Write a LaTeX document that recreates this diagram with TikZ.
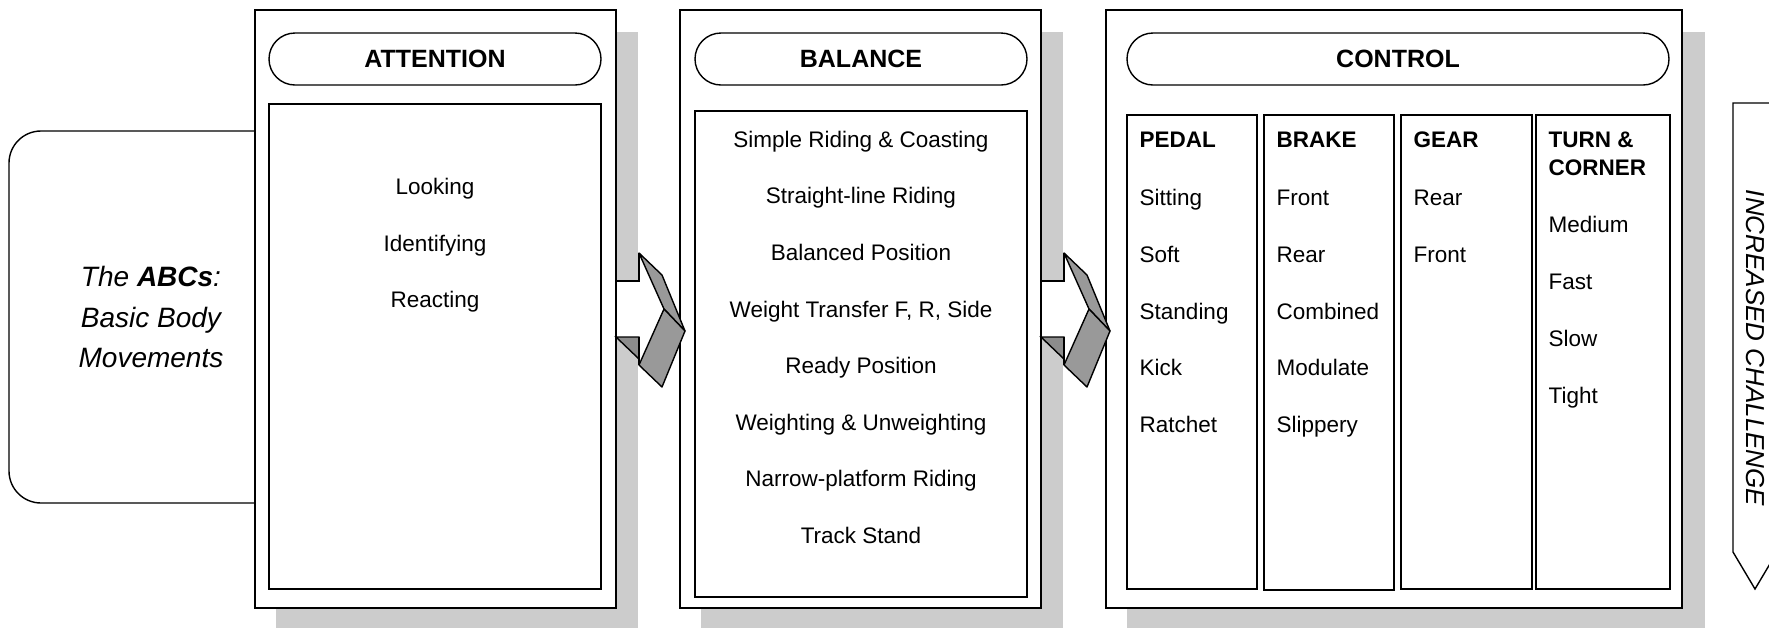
\documentclass[tikz,border=0pt]{standalone}
\usepackage{fontspec}
\setmainfont{Liberation Sans}

\begin{document}
\begin{tikzpicture}[x=0.5pt, y=-0.5pt, line width=0.7pt,
    item/.style={inner sep=0pt, font=\fontsize{11.25}{13.5}\selectfont},
    colhead/.style={inner sep=0pt, align=left, font=\bfseries\fontsize{11.25}{14}\selectfont},
    title/.style={inner sep=0pt, font=\bfseries\fontsize{12.5}{15}\selectfont},
    shadowbox/.style={fill=black!20},
    ribbon/.style={fill=black!40, draw=black, line join=round}]
        \useasboundingbox (0,0) rectangle (1769,628);

        % draw the shadows
        \fill[shadowbox] (276,32) rectangle (638,628);
        \fill[shadowbox] (701,32) rectangle (1063,628);
        \fill[shadowbox] (1127,32) rectangle (1705,628);

        % the starting box
        \draw[rounded corners=16pt] (9,131) rectangle (293,503);

        % draw the panels
        \filldraw[fill=white] (255,10) rectangle (616,608);
        \draw (269,104) rectangle (601,589);
        \draw[rounded corners=13pt] (269,33) rectangle (601,85);

        \filldraw[fill=white] (680,10) rectangle (1041,608);
        \draw (695,111) rectangle (1027,597);
        \draw[rounded corners=13pt] (695,33) rectangle (1027,85);

        \filldraw[fill=white] (1106,10) rectangle (1682,608);
        \draw[rounded corners=13pt] (1127,33) rectangle (1669,85);
        \draw (1127,115) rectangle (1257,589);
        \draw (1264,115) rectangle (1394,590);
        \draw (1401,115) rectangle (1532,589);
        \draw (1536,115) rectangle (1670,589);

        % the folded arrows
        \fill[white] (617,281) rectangle (639,337);
        \draw (616,281) -- (639,281) -- (639,253);
        \filldraw[fill=black!45] (616,337) -- (639,337) -- (639,359) -- cycle;
        \draw (639,337) -- (639,365);
        \filldraw[ribbon] (639,253) -- (662,275) -- (685,331) -- (664,309) -- cycle;
        \filldraw[ribbon] (664,309) -- (685,331) -- (662,387) -- (639,365) -- cycle;

        \fill[white] (1042,281) rectangle (1064,337);
        \draw (1041,281) -- (1064,281) -- (1064,253);
        \filldraw[fill=black!45] (1041,337) -- (1064,337) -- (1064,359) -- cycle;
        \draw (1064,337) -- (1064,365);
        \filldraw[ribbon] (1064,253) -- (1087,275) -- (1110,331) -- (1089,309) -- cycle;
        \filldraw[ribbon] (1089,309) -- (1110,331) -- (1087,387) -- (1064,365) -- cycle;

        % the challenge arrow
        \draw (1733,103) -- (1777,103) -- (1777,552) -- (1755,589) -- (1733,552) -- cycle;

        % the texts
        \node[align=center, inner sep=0pt, font=\itshape\fontsize{14}{20.3}\selectfont] (abc) at (151,317)
            {The \textbf{ABCs}:\\Basic Body\\Movements};
        \node[rotate=-90, inner sep=0pt, font=\itshape\fontsize{13}{15}\selectfont] (challenge) at (1755,348)
            {INCREASED CHALLENGE};

        \node[title] (attention) at (435,59) {ATTENTION};
        \node[title] (balance) at (861,59) {BALANCE};
        \node[title] (control) at (1398,59) {CONTROL};

        \node[item, anchor=base] (a1) at (435,194) {Looking};
        \node[item, anchor=base] (a2) at (435,251) {Identifying};
        \node[item, anchor=base] (a3) at (435,307) {Reacting};

        \node[item, anchor=base] (b1) at (861,147) {Simple Riding \& Coasting};
        \node[item, anchor=base] (b2) at (861,203) {Straight-line Riding};
        \node[item, anchor=base] (b3) at (861,260) {Balanced Position};
        \node[item, anchor=base] (b4) at (861,317) {Weight Transfer F, R, Side};
        \node[item, anchor=base] (b5) at (861,373) {Ready Position};
        \node[item, anchor=base] (b6) at (861,430) {Weighting \& Unweighting};
        \node[item, anchor=base] (b7) at (861,486) {Narrow-platform Riding};
        \node[item, anchor=base] (b8) at (861,543) {Track Stand};

        \node[colhead, anchor=base west] (pedal) at (1139,147) {PEDAL};
        \node[item, anchor=base west] (p1) at (1139,205) {Sitting};
        \node[item, anchor=base west] (p2) at (1139,262) {Soft};
        \node[item, anchor=base west] (p3) at (1139,319) {Standing};
        \node[item, anchor=base west] (p4) at (1139,375) {Kick};
        \node[item, anchor=base west] (p5) at (1139,432) {Ratchet};

        \node[colhead, anchor=base west] (brake) at (1276,147) {BRAKE};
        \node[item, anchor=base west] (k1) at (1276,205) {Front};
        \node[item, anchor=base west] (k2) at (1276,262) {Rear};
        \node[item, anchor=base west] (k3) at (1276,319) {Combined};
        \node[item, anchor=base west] (k4) at (1276,375) {Modulate};
        \node[item, anchor=base west] (k5) at (1276,432) {Slippery};

        \node[colhead, anchor=base west] (gear) at (1413,147) {GEAR};
        \node[item, anchor=base west] (g1) at (1413,205) {Rear};
        \node[item, anchor=base west] (g2) at (1413,262) {Front};

        \node[colhead, anchor=north west] (turn) at (1548,131) {TURN \&\\CORNER};
        \node[item, anchor=base west] (t1) at (1548,232) {Medium};
        \node[item, anchor=base west] (t2) at (1548,289) {Fast};
        \node[item, anchor=base west] (t3) at (1548,346) {Slow};
        \node[item, anchor=base west] (t4) at (1548,403) {Tight};

    \end{tikzpicture}
\end{document}
